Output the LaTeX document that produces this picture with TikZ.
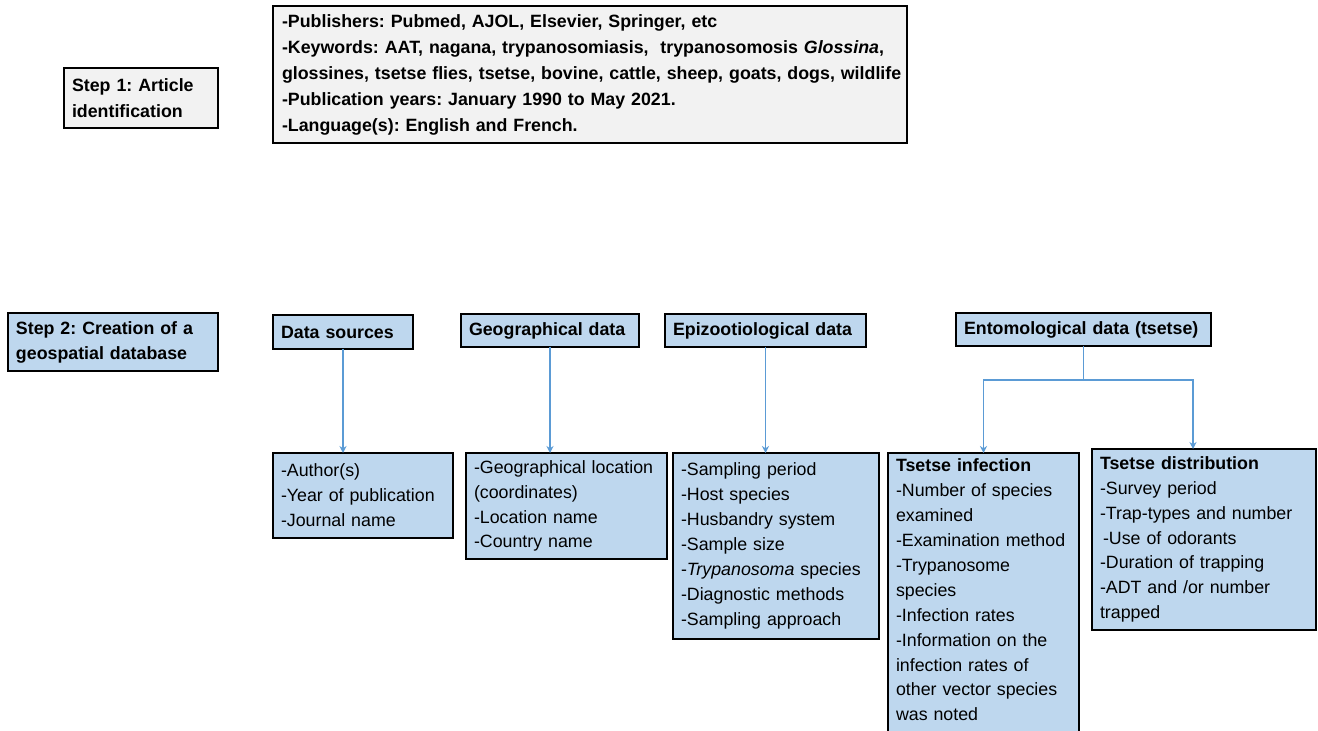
\documentclass[tikz,border=0pt]{standalone}
\usepackage{fontspec}
\setmainfont{Liberation Sans}
\usetikzlibrary{arrows.meta}
\definecolor{boxgray}{RGB}{242,242,242}
\definecolor{boxblue}{RGB}{190,215,238}
\definecolor{linkblue}{RGB}{91,155,213}
\frenchspacing
\begin{document}
\begin{tikzpicture}[x=0.5pt,y=-0.5pt]
    \tikzstyle{every node}=[draw=black,line width=1pt,anchor=north west,align=left,inner xsep=4pt,inner ysep=3pt,outer sep=0pt,font=\fontsize{8.9}{12.45}\selectfont];
    \tikzstyle{grey}=[fill=boxgray,font=\fontsize{8.9}{13}\selectfont\bfseries];
    \tikzstyle{head}=[fill=boxblue,font=\fontsize{8.9}{12.45}\selectfont\bfseries];
    \tikzstyle{info}=[fill=boxblue];
    \tikzstyle{link}=[draw=linkblue,line width=0.8pt,-{Stealth[length=3.5pt,width=3.5pt]}];
    \clip (0,0) rectangle (1318,731);
    %step 1
    \node[grey,text width=69pt,minimum height=30pt] (s1) at (64,68) {Step 1: Article\\identification};
    \node[grey,text width=312pt,inner xsep=2.5pt,minimum height=68.5pt] (pub) at (273,6) {\hspace{2pt}-Publishers: Pubmed, AJOL, Elsevier, Springer, etc\\
      \hspace{2pt}-Keywords: AAT, nagana, trypanosomiasis, \ trypanosomosis \textit{Glossina},\\
      \mbox{\hspace{2pt}glossines, tsetse flies, tsetse, bovine, cattle, sheep, goats, dogs, wildlife}\\
      \hspace{2pt}-Publication years: January 1990 to May 2021.\\
      \hspace{2pt}-Language(s): English and French.};
    %step 2
    \node[head,text width=97pt,minimum height=29pt] (s2) at (8,313) {Step 2: Creation of a\\geospatial database};
    \node[head,text width=62pt,minimum height=17pt] (dsrc) at (273,315) {Data sources};
    \node[head,text width=81pt,minimum height=16.5pt] (geo) at (461,314) {Geographical data};
    \node[head,text width=92.5pt,minimum height=16.5pt] (epi) at (665,314) {Epizootiological data};
    \node[head,text width=119.5pt,minimum height=16.5pt] (ento) at (956,313) {Entomological data (tsetse)};

    \node[info,text width=82pt,minimum height=42.5pt] (auth) at (273,453) {-Author(s)\\-Year of publication\\-Journal name};
    \node[info,text width=92.5pt,minimum height=53pt] (geobox) at (466,453) {-Geographical location\\(coordinates)\\-Location name\\-Country name};
    \node[info,text width=95pt,minimum height=93pt] (epibox) at (673,453) {-Sampling period\\-Host species\\-Husbandry system\\-Sample size\\-\textit{Trypanosoma} species\\-Diagnostic methods\\-Sampling approach};
    \node[info,text width=87.5pt] (inf) at (888,453) {\textbf{Tsetse infection}\\-Number of species\\examined\\-Examination method\\-Trypanosome\\species\\-Infection rates\\-Information on the\\infection rates of\\other vector species\\was noted\\\mbox{}};
    \node[info,text width=104pt,minimum height=90.5pt] (dist) at (1092,449) {\textbf{Tsetse distribution}\\-Survey period\\-Trap-types and number\\\hspace{1.5pt}-Use of odorants\\-Duration of trapping\\-ADT and /or number\\trapped};

    \coordinate (fork) at (1083.5,380);
    \draw[link] (dsrc) -- (dsrc |- auth.north);
    \draw[link] (geo) -- (geo |- geobox.north);
    \draw[link] (epi) -- (epi |- epibox.north);
    \draw[draw=linkblue,line width=0.8pt] (ento) -- (fork);
    \draw[link] (fork) -| (inf.north);
    \draw[link] (fork) -| ([xshift=-5.5pt]dist.north);
\end{tikzpicture}
\end{document}
